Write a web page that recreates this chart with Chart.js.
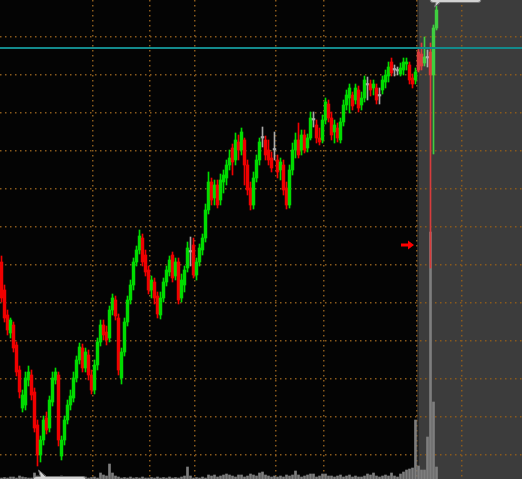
<!DOCTYPE html>
<html><head><meta charset="utf-8">
<script src="https://cdn.jsdelivr.net/npm/chart.js@4"></script>
<style>html,body{margin:0;padding:0;background:#040404;overflow:hidden}#wrap{width:522px;height:479px;position:relative}</style>
</head><body><div id="wrap"><canvas id="c"></canvas></div>
<script>
const opens=[16.90,15.50,14.25,13.35,13.75,12.75,11.50,9.60,9.75,11.00,
11.25,10.40,8.75,7.25,8.00,9.10,8.60,9.90,11.00,11.25,
7.20,8.00,9.00,9.75,10.10,11.10,12.00,12.60,11.60,12.25,
11.25,10.50,11.75,12.90,13.75,13.40,13.10,14.50,15.00,14.10,
11.10,12.40,13.90,15.00,15.75,16.90,17.50,18.10,17.25,16.50,
15.50,15.90,15.20,14.25,15.10,15.90,16.40,17.25,16.20,16.90,
15.10,15.75,16.60,17.40,17.75,16.25,16.90,17.50,18.10,19.50,
20.90,20.10,20.75,20.00,20.90,21.10,21.75,22.60,22.00,22.90,
22.50,23.00,21.75,20.60,19.75,21.10,22.00,23.10,23.00,22.50,
22.10,22.50,22.00,21.50,21.75,20.60,19.75,21.50,22.50,23.00,
22.50,23.25,22.60,23.10,24.00,23.75,23.10,23.00,24.00,24.80,
24.10,23.40,23.60,23.00,23.90,24.75,25.10,25.25,25.00,25.50,
24.75,25.10,25.75,25.80,25.60,25.60,25.20,25.50,25.90,26.20,
26.90,26.50,26.45,26.30,26.50,26.80,26.75,26.10,26.00,27.40,
27.30,26.85,27.10,27.40,26.25,28.60];
const closes=[15.10,14.10,13.50,14.00,12.60,11.40,10.40,10.25,11.10,11.40,
10.25,8.60,7.25,8.00,9.00,8.50,10.00,11.10,11.40,8.00,
8.00,9.00,9.75,10.20,11.10,12.00,12.65,11.60,12.40,11.25,
10.50,11.75,12.90,13.75,13.25,13.00,14.50,15.10,14.20,11.50,
12.40,13.90,15.00,15.75,16.90,17.50,18.20,16.90,16.40,15.50,
16.00,15.10,14.30,15.10,15.90,16.50,17.00,16.10,16.90,15.00,
16.00,16.50,17.60,17.40,16.25,16.90,17.60,18.10,19.50,20.90,
20.00,20.75,19.75,21.00,21.25,21.75,22.10,21.90,23.00,22.50,
23.40,21.75,20.50,19.75,21.10,22.00,22.90,23.10,22.25,22.00,
21.60,22.50,21.40,21.90,20.50,19.75,21.50,22.50,23.00,22.25,
23.25,22.50,23.10,24.10,24.00,23.10,22.90,24.00,24.90,24.10,
23.25,23.75,23.10,23.90,24.75,25.25,25.60,24.70,25.60,24.60,
25.10,26.00,25.75,25.50,25.80,25.00,25.20,26.00,26.25,26.65,
26.35,26.50,26.45,26.60,26.90,26.90,26.00,25.80,26.40,26.50,
26.70,27.15,27.10,26.25,28.60,29.50];
const highs=[17.20,15.75,14.50,14.10,13.90,12.90,11.70,10.50,11.40,11.70,
11.50,10.60,9.00,8.20,9.20,9.40,10.20,11.40,11.60,11.40,
8.20,9.20,10.00,10.50,11.40,12.20,12.85,12.80,12.60,12.50,
11.50,12.00,13.10,14.00,14.00,13.70,14.70,15.30,15.20,14.30,
12.60,14.10,15.20,16.00,17.10,17.70,18.50,18.30,17.50,16.70,
16.20,16.10,15.40,15.40,16.10,16.70,17.20,17.40,17.10,17.10,
16.30,16.70,17.90,18.15,18.10,17.10,17.80,18.30,19.80,21.40,
21.10,21.00,21.00,21.30,21.50,22.00,22.50,22.80,23.35,23.25,
23.60,23.10,22.00,20.90,21.40,22.25,23.10,23.65,23.20,23.00,
22.40,23.40,22.25,22.10,22.00,20.90,21.75,22.85,23.35,23.85,
23.50,23.50,23.30,24.40,24.40,24.00,23.60,24.25,25.10,25.00,
24.40,24.00,23.85,24.10,25.00,25.50,25.80,25.40,25.80,25.70,
25.40,26.20,26.15,26.00,26.00,25.80,25.60,26.20,26.50,26.90,
27.10,26.75,26.65,26.85,27.10,27.10,26.90,26.30,26.60,27.60,
27.85,28.15,27.50,27.85,28.75,29.70];
const lows=[14.90,13.90,13.25,13.10,12.40,11.20,10.10,9.40,9.50,10.70,
10.00,8.40,6.70,6.90,7.75,8.30,8.40,9.70,10.80,7.70,
7.00,7.75,8.80,9.50,9.90,10.90,11.80,11.40,11.40,11.00,
10.30,10.30,11.50,12.70,13.00,12.75,12.90,14.25,14.00,11.25,
10.80,12.20,13.70,14.80,15.50,16.70,17.30,16.70,16.20,15.30,
15.10,14.80,14.10,14.05,14.90,15.70,16.20,15.90,16.00,14.80,
14.90,15.40,16.40,16.70,16.10,16.00,16.70,17.25,17.90,19.30,
19.75,19.75,19.60,19.75,20.35,20.75,21.50,21.25,21.75,22.00,
22.25,20.75,20.25,19.50,19.55,20.90,21.75,22.65,22.00,21.75,
21.40,22.00,21.10,21.00,20.25,19.55,19.60,21.25,22.10,22.10,
22.25,22.35,22.40,23.00,23.65,22.85,22.75,22.85,23.80,23.90,
23.00,22.85,22.90,22.85,23.70,24.50,24.35,24.50,24.80,24.40,
24.50,24.90,25.00,25.20,25.25,24.80,24.80,25.30,25.60,25.90,
26.20,26.20,26.25,26.20,26.25,26.50,25.80,25.60,25.80,26.40,
26.50,26.70,26.65,16.60,22.30,28.50];
const volumes=[10,15,10,20,20,10,30,20,15,10,
10,60,30,20,10,15,10,20,10,20,
30,20,15,10,20,10,15,10,20,10,
15,20,10,60,40,30,150,60,30,20,
10,15,10,20,10,15,10,20,10,10,
15,10,20,10,15,10,20,10,15,10,
20,30,120,30,10,15,10,20,10,40,
30,40,20,30,40,50,40,30,20,40,
40,20,30,50,40,30,60,70,40,30,
20,30,20,30,20,40,30,40,80,40,
20,30,40,50,50,20,30,50,50,30,
30,20,30,40,20,30,40,20,30,20,
20,30,50,40,60,30,20,30,40,30,
60,30,20,50,70,90,100,110,590,130,
90,90,420,2470,770,120];
const slotCount = 174;
const categories = Array.from({length: slotCount}, (_, i) => String(i + 1));
const priceGridTicks = [28.15, 26.25, 24.35, 22.45, 20.55, 18.65, 16.75, 14.85, 12.95, 11.05, 9.15, 7.25];
const sessionBreaks = [31, 50, 65, 92, 108, 139, 154];
const extendedHoursStart = 139;
const referenceLevel = 27.62;
const arrowLevel = 17.75;
const arrowIndex = 137;
const highLabelIndex = 145;
const lowLabelIndex = 12;
const priceMin = 6.05, priceMax = 30;
const volumeMax = 4790;

const GREEN = '#00dc00', RED = '#f00000', GRAY = '#a8a8a8';
const GREEN_EXT = '#3fcf3f', RED_EXT = '#d83c3c', GRAY_EXT = '#b0b0b0';
const GRID = '#8a5a1c';
function candleColor(i) {
  const o = opens[i], c = closes[i];
  const ext = i >= extendedHoursStart;
  if (c > o) return ext ? GREEN_EXT : GREEN;
  if (c < o) return ext ? RED_EXT : RED;
  return ext ? GRAY_EXT : GRAY;
}

function bubble(ctx, l, t, w, h, r) {
  ctx.beginPath();
  ctx.moveTo(l + r, t);
  ctx.lineTo(l + w - r, t);
  ctx.quadraticCurveTo(l + w, t, l + w, t + r);
  ctx.lineTo(l + w, t + h - r);
  ctx.quadraticCurveTo(l + w, t + h, l + w - r, t + h);
  ctx.lineTo(l + r, t + h);
  ctx.quadraticCurveTo(l, t + h, l, t + h - r);
  ctx.lineTo(l, t + r);
  ctx.quadraticCurveTo(l, t, l + r, t);
  ctx.closePath();
}

const decor = {
  id: 'decor',
  beforeDraw(chart) {
    const {ctx, scales: {x}} = chart;
    const step = x.getPixelForValue(1) - x.getPixelForValue(0);
    const gx = x.getPixelForValue(extendedHoursStart) - step / 2;
    ctx.save();
    ctx.fillStyle = '#040404';
    ctx.fillRect(0, 0, chart.width, chart.height);
    ctx.fillStyle = '#262626';
    ctx.fillRect(gx, 0, 2, chart.height);
    ctx.fillStyle = '#3c3c3c';
    ctx.fillRect(gx + 2, 0, chart.width - gx - 2, chart.height);
    ctx.restore();
  },
  afterDatasetsDraw(chart) {
    const {ctx, scales: {x, y}} = chart;
    const step = x.getPixelForValue(1) - x.getPixelForValue(0);
    ctx.save();
    const ly = Math.round(y.getPixelForValue(referenceLevel));
    ctx.fillStyle = '#138a8c';
    ctx.fillRect(0, ly - 1, chart.width, 2);

    const tipX = x.getPixelForValue(arrowIndex) + step / 2;
    const ay = y.getPixelForValue(arrowLevel);
    ctx.fillStyle = '#ff0000';
    ctx.beginPath();
    ctx.moveTo(tipX, ay);
    ctx.lineTo(tipX - 6, ay - 4.5);
    ctx.lineTo(tipX - 6, ay - 1.5);
    ctx.lineTo(tipX - 13, ay - 1.5);
    ctx.lineTo(tipX - 13, ay + 1.5);
    ctx.lineTo(tipX - 6, ay + 1.5);
    ctx.lineTo(tipX - 6, ay + 4.5);
    ctx.closePath();
    ctx.fill();

    ctx.fillStyle = '#d2d2d2';
    ctx.strokeStyle = '#707070';
    ctx.lineWidth = 1;
    const hx = x.getPixelForValue(highLabelIndex);
    const hy = y.getPixelForValue(highs[highLabelIndex]);
    const hb = hy - 3.5;
    bubble(ctx, hx - 6.5, hb - 18, 51, 18, 3);
    ctx.fill(); ctx.stroke();
    ctx.beginPath();
    ctx.moveTo(hx - 2, hy + 1);
    ctx.lineTo(hx - 0.5, hb - 1);
    ctx.lineTo(hx + 4, hb - 1);
    ctx.closePath();
    ctx.fill();
    ctx.beginPath(); ctx.moveTo(hx - 0.5, hb); ctx.lineTo(hx - 2, hy + 1); ctx.lineTo(hx + 4, hb); ctx.stroke();

    const lx = x.getPixelForValue(lowLabelIndex);
    const lyy = y.getPixelForValue(lows[lowLabelIndex]);
    const lt = lyy + 10.5;
    bubble(ctx, lx - 4.5, lt, 53, 18, 3);
    ctx.fill(); ctx.stroke();
    ctx.beginPath();
    ctx.moveTo(lx + 1, lyy + 4);
    ctx.lineTo(lx + 3, lt + 1);
    ctx.lineTo(lx + 9, lt + 1);
    ctx.closePath();
    ctx.fill();
    ctx.beginPath(); ctx.moveTo(lx + 3, lt); ctx.lineTo(lx + 1, lyy + 4); ctx.lineTo(lx + 9, lt); ctx.stroke();
    ctx.restore();
  }
};

new Chart(document.getElementById('c'), {
  type: 'bar',
  data: {
    labels: categories,
    datasets: [
      {
        label: 'Body',
        data: opens.map((o, i) => [o, closes[i]]),
        backgroundColor: ctx => candleColor(ctx.dataIndex),
        barThickness: 2.8,
        minBarLength: 1.5,
        grouped: false,
        borderWidth: 0,
        order: 1,
        yAxisID: 'y'
      },
      {
        label: 'Wick',
        data: lows.map((l, i) => [l, highs[i]]),
        backgroundColor: ctx => candleColor(ctx.dataIndex),
        barThickness: 1,
        grouped: false,
        borderWidth: 0,
        order: 2,
        yAxisID: 'y'
      },
      {
        label: 'Volume',
        data: volumes,
        backgroundColor: '#7e7e7e',
        barThickness: 2,
        grouped: false,
        borderWidth: 0,
        order: 3,
        yAxisID: 'yv'
      }
    ]
  },
  options: {
    responsive: true,
    maintainAspectRatio: false,
    animation: false,
    layout: {padding: 0},
    plugins: {legend: {display: false}, tooltip: {enabled: false}},
    scales: {
      x: {
        offset: true,
        ticks: {display: false, autoSkip: false},
        grid: {
          offset: true,
          drawTicks: false,
          lineWidth: 1.5,
          color: ctx => sessionBreaks.includes(ctx.index) ? GRID : 'rgba(0,0,0,0)'
        },
        border: {display: false, dash: [1.5, 3.5]}
      },
      y: {
        min: priceMin,
        max: priceMax,
        afterBuildTicks: s => { s.ticks = priceGridTicks.map(v => ({value: v})); },
        ticks: {display: false},
        grid: {drawTicks: false, color: GRID, lineWidth: 1.5},
        border: {display: false, dash: [1.5, 3.5]}
      },
      yv: {
        display: false,
        min: 0,
        max: volumeMax
      }
    }
  },
  plugins: [decor]
});
</script>
</body></html>
